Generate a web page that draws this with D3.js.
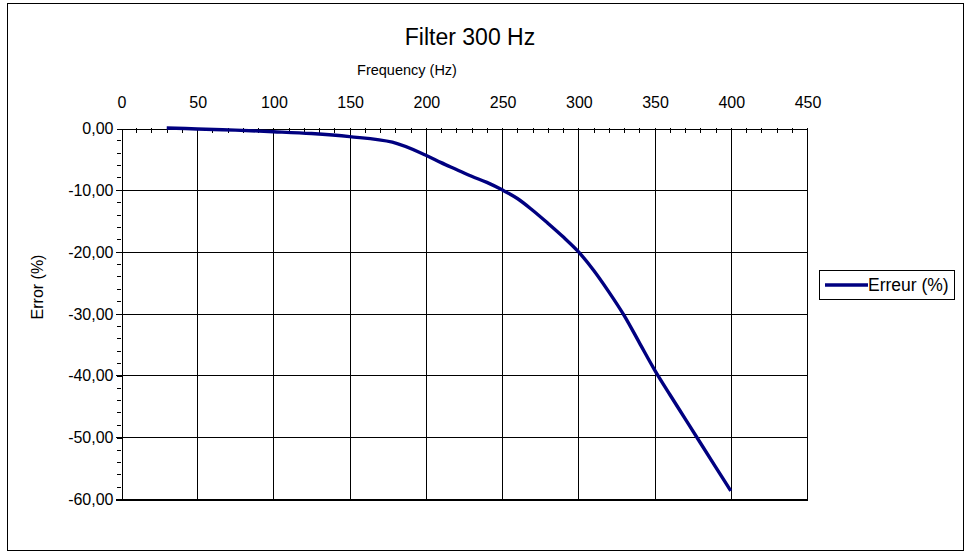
<!DOCTYPE html>
<html>
<head>
<meta charset="utf-8">
<script src="https://cdn.jsdelivr.net/npm/d3@7"></script>
<style>
  html, body { margin: 0; padding: 0; background: #fff; }
  svg { display: block; font-family: "Liberation Sans", Arial, sans-serif; }
</style>
</head>
<body>
<svg id="chart" width="968" height="555"></svg>
<script>
// ---- data ----
const frequencies = [30, 50, 75, 100, 125, 150, 178, 200, 210, 220, 230, 240, 250, 260, 270, 280, 290, 300, 310, 320, 330, 340, 350, 360, 370, 380, 390, 400];
const errors      = [0, -0.15, -0.35, -0.6, -0.9, -1.4, -2.3, -4.4, -5.6, -6.7, -7.8, -8.8, -10.0, -11.4, -13.3, -15.4, -17.6, -20.0, -23.0, -26.5, -30.3, -34.7, -39.1, -43.1, -47.0, -50.9, -54.8, -58.7];
const xTicks = [0, 50, 100, 150, 200, 250, 300, 350, 400, 450];
const yTicks = [0, -10, -20, -30, -40, -50, -60];
const seriesName = "Erreur (%)";
const chartTitle = "Filter 300 Hz";
const xTitle = "Frequency (Hz)";
const yTitle = "Error (%)";

const svg = d3.select("#chart");
const plot = { left: 121, right: 807, top: 128, bottom: 499 };

// outer frame
svg.append("rect").attr("x", 7.5).attr("y", 3.5).attr("width", 956).attr("height", 547)
  .attr("fill", "#fff").attr("stroke", "#000").attr("stroke-width", 1);

const x = d3.scaleLinear().domain([0, 450]).range([plot.left, plot.right]);
const y = d3.scaleLinear().domain([0, -60]).range([plot.top, plot.bottom]);

const g = svg.append("g").attr("shape-rendering", "crispEdges");

// gridlines
g.selectAll(".vg").data(xTicks.filter(d => d > 0)).join("line")
  .attr("x1", d => Math.round(x(d)) + 0.5).attr("x2", d => Math.round(x(d)) + 0.5)
  .attr("y1", plot.top).attr("y2", plot.bottom)
  .attr("stroke", "#000").attr("stroke-width", 1);
g.selectAll(".hg").data(yTicks.filter(d => d < 0)).join("line")
  .attr("x1", plot.left - 5).attr("x2", plot.right + 0.5)
  .attr("y1", d => Math.round(y(d)) + 0.5).attr("y2", d => Math.round(y(d)) + 0.5)
  .attr("stroke", "#000").attr("stroke-width", d => d === -60 ? 2 : 1);

// top axis (x) with inward minor ticks
const xAxis = d3.axisTop(x).tickValues(xTicks).tickSize(0).tickPadding(0).tickFormat(d3.format("d"));
const xg = svg.append("g").attr("transform", `translate(0.5,${plot.top + 0.5})`).call(xAxis);
xg.select(".domain").attr("stroke", "#000").attr("shape-rendering", "crispEdges");
xg.selectAll("text").attr("font-size", 16).attr("fill", "#000").attr("y", -21);
const xMinor = d3.range(0, 451, 10).filter(d => d % 50 !== 0);
g.selectAll(".xm").data(xMinor).join("line")
  .attr("x1", d => Math.round(x(d)) + 0.5).attr("x2", d => Math.round(x(d)) + 0.5)
  .attr("y1", plot.top).attr("y2", plot.top + 5).attr("stroke", "#000");

// left axis (y)
const yAxis = d3.axisLeft(y).tickValues(yTicks).tickSize(5).tickPadding(3)
  .tickFormat(d => d3.format(".2f")(d).replace(".", ",").replace("−", "-"));
const yg = svg.append("g").attr("transform", `translate(${plot.left + 0.5},0.5)`).call(yAxis);
yg.select(".domain").attr("stroke", "#000").attr("shape-rendering", "crispEdges");
yg.selectAll("line").attr("stroke", "#000").attr("shape-rendering", "crispEdges");
yg.selectAll("text").attr("font-size", 16).attr("fill", "#000");
const yMinor = d3.range(0, -61, -2).filter(d => d % 10 !== 0);
g.selectAll(".ym").data(yMinor).join("line")
  .attr("x1", plot.left - 4).attr("x2", plot.left)
  .attr("y1", d => Math.round(y(d)) + 0.5).attr("y2", d => Math.round(y(d)) + 0.5)
  .attr("stroke", "#000");

// series line
const line = d3.line().x((d, i) => x(frequencies[i])).y(d => y(d)).curve(d3.curveCatmullRom.alpha(0.5));
svg.append("path").datum(errors).attr("d", line)
  .attr("fill", "none").attr("stroke", "#000080").attr("stroke-width", 3.4)
  .attr("stroke-linejoin", "round");

// titles
svg.append("text").attr("x", 470).attr("y", 45).attr("text-anchor", "middle")
  .attr("font-size", 23).text(chartTitle);
svg.append("text").attr("x", 407).attr("y", 75).attr("text-anchor", "middle")
  .attr("font-size", 14.5).text(xTitle);
svg.append("text").attr("transform", "translate(43,287) rotate(-90)").attr("text-anchor", "middle")
  .attr("font-size", 16).text(yTitle);

// legend
const lg = svg.append("g");
lg.append("rect").attr("x", 819.5).attr("y", 270.5).attr("width", 135).attr("height", 29)
  .attr("fill", "#fff").attr("stroke", "#000");
lg.append("line").attr("x1", 825).attr("x2", 868).attr("y1", 285).attr("y2", 285)
  .attr("stroke", "#000080").attr("stroke-width", 3.4);
lg.append("text").attr("x", 868).attr("y", 291).attr("font-size", 17.5).text(seriesName);
</script>
</body>
</html>
